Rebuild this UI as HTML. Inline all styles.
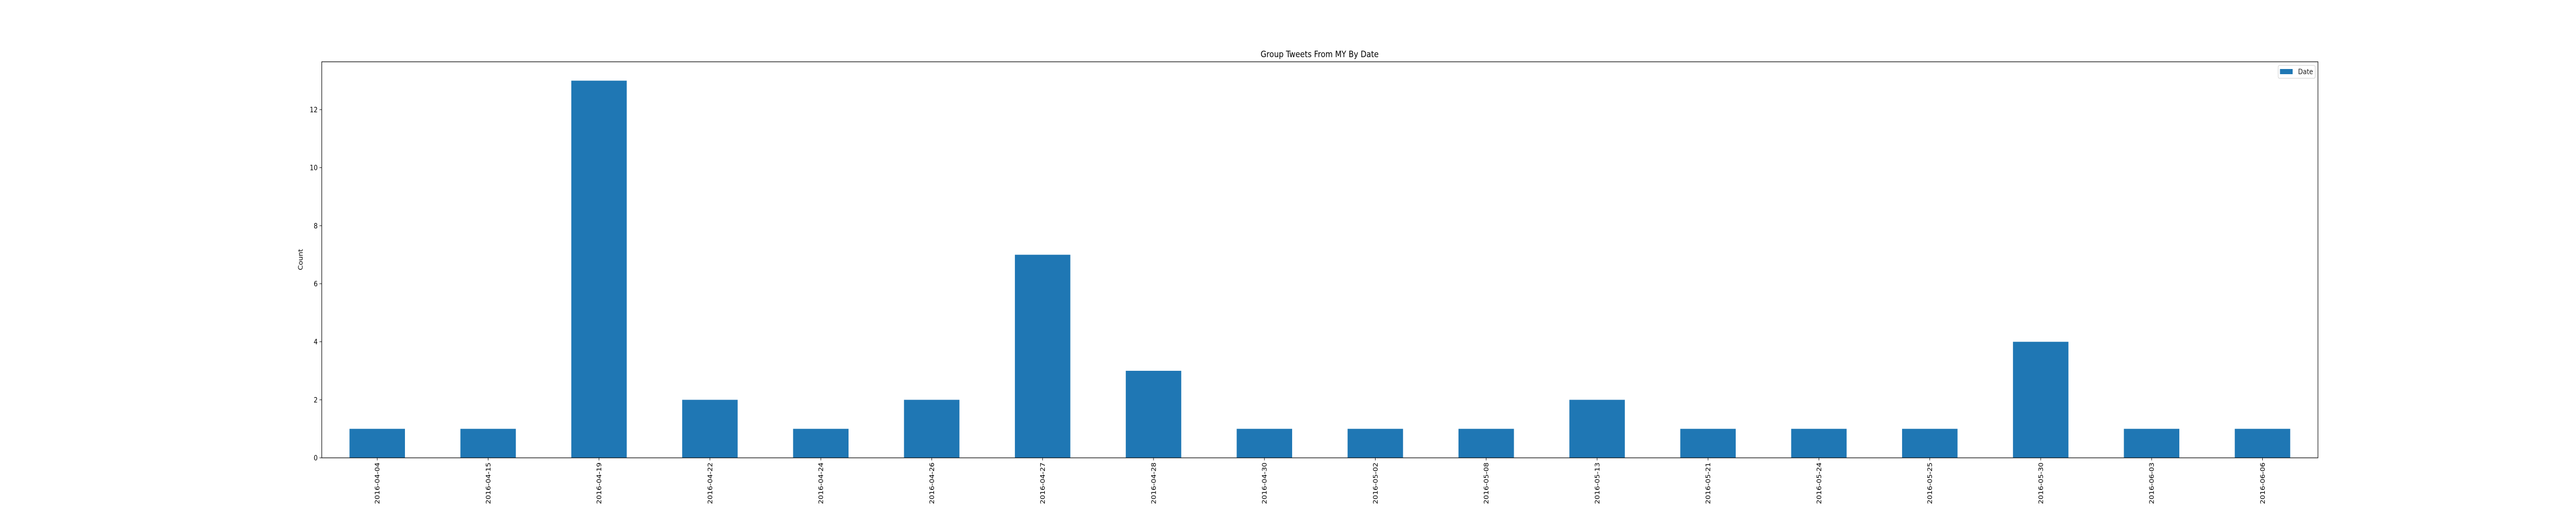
<!DOCTYPE html>
<html><head><meta charset="utf-8"><style>
html,body{margin:0;padding:0;background:#fff;overflow:hidden;width:100%;height:100%;}
svg{display:block;width:100vw;height:100vh;font-family:"DejaVu Sans","Liberation Sans",sans-serif;}
</style></head><body>
<svg id="chart" viewBox="0 0 5700 1000" preserveAspectRatio="none" xmlns="http://www.w3.org/2000/svg">
<rect width="5700" height="1000" fill="#fff"/>
<text x="2920" y="111" font-size="16.7" text-anchor="middle">Group Tweets From MY By Date</text>
<text transform="translate(670,504) rotate(-90)" font-size="13.9" text-anchor="middle">Count</text>
<g id="bars"></g>
<g id="axes"></g>
<g>
<rect x="5041" y="127" width="82" height="25" rx="3" fill="#fff" stroke="#ccc" stroke-width="1"/>
<rect x="5045" y="134" width="28" height="10" fill="#1f77b4"/>
<text x="5085" y="144" font-size="13.9" fill="#222">Date</text>
</g>
</svg>
<script>
const categories = ["2016-04-04","2016-04-15","2016-04-19","2016-04-22","2016-04-24","2016-04-26","2016-04-27","2016-04-28","2016-04-30","2016-05-02","2016-05-08","2016-05-13","2016-05-21","2016-05-24","2016-05-25","2016-05-30","2016-06-03","2016-06-06"];
const counts = [1,1,13,2,1,2,7,3,1,1,1,2,1,1,1,4,1,1];
const yTicks = [0,2,4,6,8,10,12];

const NS = "http://www.w3.org/2000/svg";
const L = 712, R = 5129, T = 120, B = 889;
const yMax = Math.max(...counts) * 1.05;
const n = categories.length;
const xScale = i => L + (i + 0.5) * (R - L) / n;
const yScale = v => B - v / yMax * (B - T);
const bw = 0.5 * (R - L) / n;

function mk(tag, attrs, parent) {
  const e = document.createElementNS(NS, tag);
  for (const k in attrs) e.setAttribute(k, attrs[k]);
  parent.appendChild(e);
  return e;
}
const bars = document.getElementById('bars');
const axes = document.getElementById('axes');

counts.forEach((v, i) => {
  const r = mk('rect', {x: xScale(i) - bw / 2, y: yScale(v), width: bw, height: yScale(0) - yScale(v), fill: '#1f77b4'}, bars);
  
  
});

const frame = mk('rect', {x: L, y: T, width: R - L, height: B - T, fill: 'none', stroke: '#000', 'stroke-width': 1.2}, axes);



yTicks.forEach(t => {
  const y = yScale(t);
  const tk = mk('line', {x1: L - 5, x2: L, y1: y, y2: y, stroke: '#000', 'stroke-width': 1}, axes);
  
  
  const tx = mk('text', {x: L - 9, y: y + 5, 'font-size': 13.9, 'text-anchor': 'end'}, axes);
  tx.textContent = t;
  
  
});

categories.forEach((c, i) => {
  const x = xScale(i);
  const tk = mk('line', {x1: x, x2: x, y1: B, y2: B + 5, stroke: '#000', 'stroke-width': 1}, axes);
  
  
  const tx = mk('text', {transform: 'translate(' + (x + 5) + ',' + (B + 9) + ') rotate(-90)', 'font-size': 13.9, 'text-anchor': 'end'}, axes);
  tx.textContent = c;
  
  
});
</script>
</body></html>
